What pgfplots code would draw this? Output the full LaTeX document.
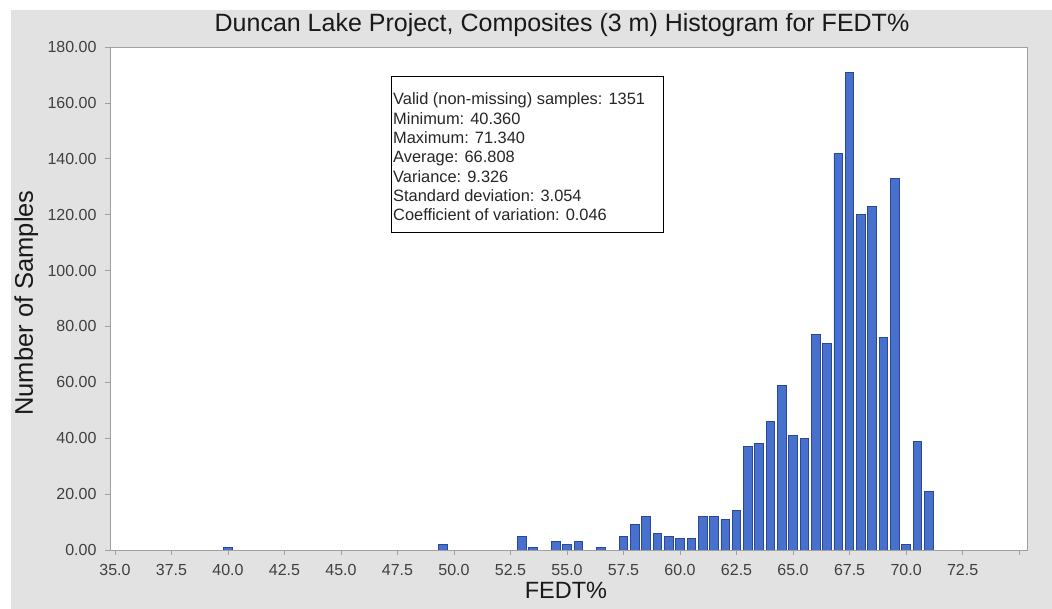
\documentclass[border=0pt]{standalone}
\usepackage{fontspec}
\setmainfont{Liberation Sans}
\usepackage{pgfplots}
\pgfplotsset{compat=1.18}
\definecolor{panelgray}{RGB}{226,226,226}
\definecolor{barfill}{RGB}{72,113,206}
\definecolor{baredge}{RGB}{42,72,150}
\definecolor{axgray}{RGB}{160,160,160}
\definecolor{ticktext}{RGB}{64,64,64}

\pgfplotstableread{
x    n
40.0 1
49.5 2
53.0 5
53.5 1
54.5 3
55.0 2
55.5 3
56.5 1
57.5 5
58.0 9
58.5 12
59.0 6
59.5 5
60.0 4
60.5 4
61.0 12
61.5 12
62.0 11
62.5 14
63.0 37
63.5 38
64.0 46
64.5 59
65.0 41
65.5 40
66.0 77
66.5 74
67.0 142
67.5 171
68.0 120
68.5 123
69.0 76
69.5 133
70.0 2
70.5 39
71.0 21
}\fedt

\begin{document}
\begin{tikzpicture}[x=1pt,y=1pt]
  % page: white strip on top and left, gray panel behind the chart
  \fill[white] (-110,-59) rectangle (942,550);
  \fill[panelgray] (-99,-59) rectangle (942,540);
  \begin{axis}[
      at={(0,0)}, anchor=south west,
      scale only axis,
      width=917pt, height=503pt,
      xmin=34.78, xmax=75.35,
      ymin=0, ymax=180,
      axis background/.style={fill=white},
      axis line style={axgray, line width=0.9pt},
      tick style={axgray, line width=0.7pt},
      major tick length=5pt,
      tick align=outside,
      xtick pos=bottom, ytick pos=left,
      xtick={35,37.5,...,75},
      xticklabels={35.0,37.5,40.0,42.5,45.0,47.5,50.0,52.5,55.0,57.5,60.0,62.5,65.0,67.5,70.0,72.5,{}},
      ytick={0,20,...,180},
      yticklabels={0.00,20.00,40.00,60.00,80.00,100.00,120.00,140.00,160.00,180.00},
      yticklabel style={anchor=east},
      xticklabel style={anchor=north},
      ticklabel style={font=\fontsize{16}{19}\selectfont, text=ticktext},
      yticklabel shift=5pt,
      xticklabel shift=6pt,
      ybar, bar width=0.38,
    ]
    \addplot[fill=barfill, draw=baredge, line width=0.8pt] table[x=x, y=n] {\fedt};
  \end{axis}
  % titles
  \node[anchor=base, font=\fontsize{25}{30}\selectfont, text=black!90] at (452,518)
    {Duncan Lake Project, Composites (3 m) Histogram for FEDT\%};
  \node[anchor=base, font=\fontsize{23.5}{28}\selectfont, text=black!90] at (456,-49) {FEDT\%};
  \node[anchor=base, rotate=90, font=\fontsize{25.5}{30}\selectfont, text=black!90] at (-77,247) {Number of Samples};
  % statistics box
  \draw[black, line width=1pt, fill=white] (281,473) rectangle (553,317);
  \foreach \t [count=\i from 0] in {Valid (non-missing) samples: 1351, Minimum: 40.360, Maximum: 71.340,
      Average: 66.808, Variance: 9.326, Standard deviation: 3.054, Coefficient of variation: 0.046}
    \node[anchor=base west, inner sep=0pt, font=\fontsize{16.4}{19}\selectfont, text=black!85] at (283,445-19.33*\i) {\t};
  \pgfresetboundingbox
  \path (-110,-59) rectangle (942,550);
\end{tikzpicture}
\end{document}
